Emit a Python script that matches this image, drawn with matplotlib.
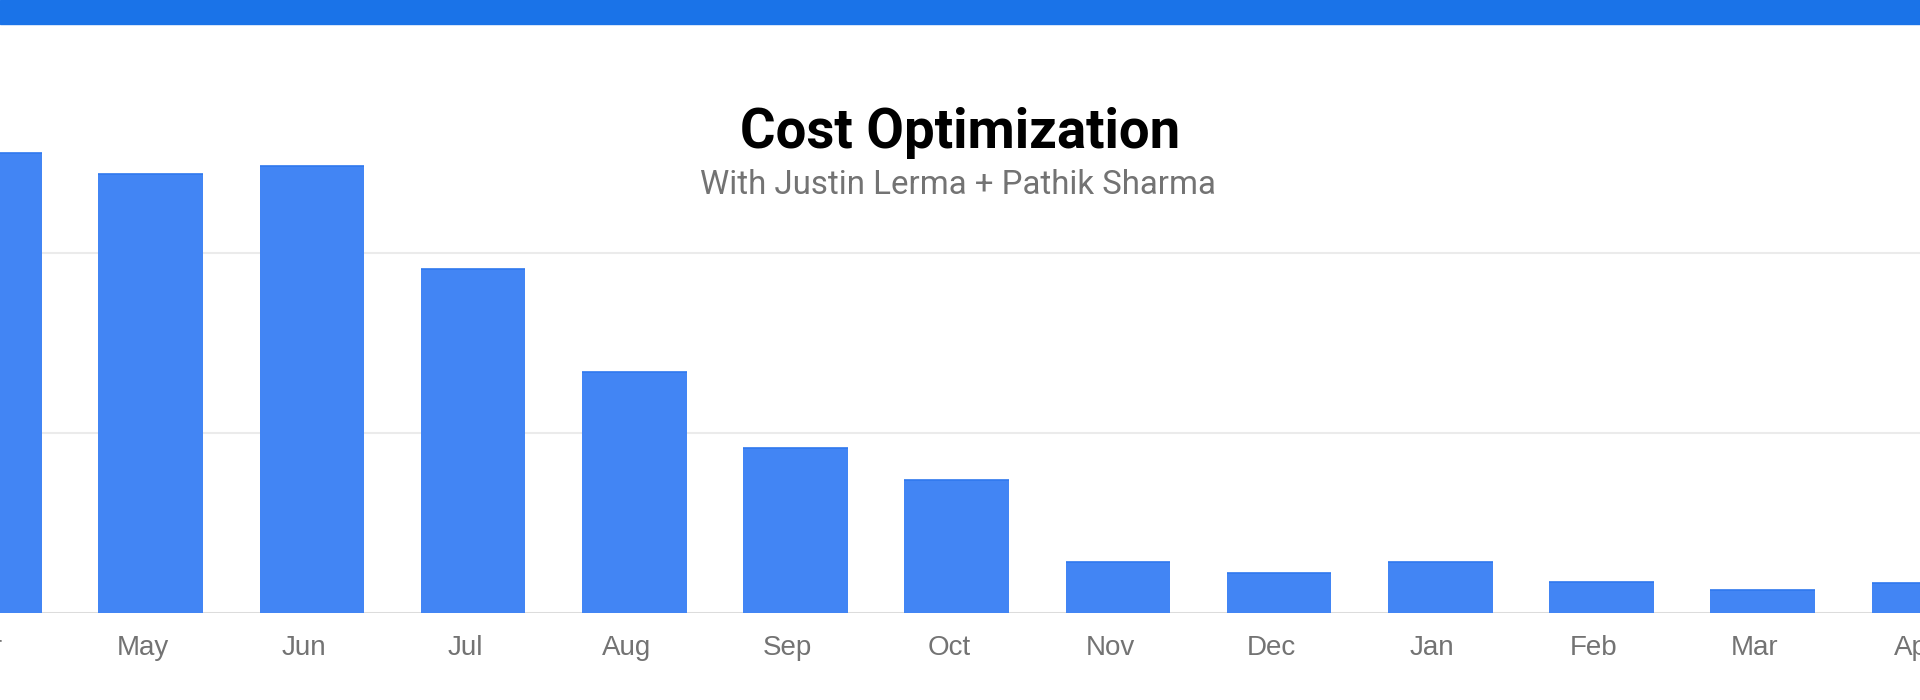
import matplotlib
matplotlib.use("Agg")
import matplotlib.pyplot as plt
import matplotlib.transforms as mtransforms
import numpy as np

# monthly cost, arbitrary units (grid step = 100)
months = ["Apr", "May", "Jun", "Jul", "Aug", "Sep", "Oct",
          "Nov", "Dec", "Jan", "Feb", "Mar", "Apr"]
cost = [255.4, 243.6, 248.3, 190.9, 133.6, 91.3, 73.7,
        28.2, 22.1, 28.2, 17.1, 12.6, 16.5]
grid_values = [100, 200]

title = "Cost Optimization"
subtitle = "With Justin Lerma + Pathik Sharma"

bar_color = "#4285f4"
bar_edge = "#2f78ee"
band_color = "#1a73e8"
label_gray = "#737373"

W, H = 1920, 700
fig = plt.figure(figsize=(W / 100, H / 100), dpi=100)
fig.patch.set_facecolor("white")

# axes spans full width, baseline at ~613 px from top
ax = fig.add_axes([0, 87.3 / H, 1, 612.7 / H])
ax.set_facecolor("none")

x = np.arange(len(months))
bw = 0.65
for g in grid_values:
    ax.axhline(g, color="#ebebeb", linewidth=1.5, zorder=0)
ax.bar(x, cost, width=bw, color=bar_color, zorder=2)
# slightly darker top edge on each bar, like the screenshot
ax.hlines(cost, x - bw / 2, x + bw / 2, color=bar_edge, linewidth=1.2, zorder=3)
ax.axhline(0, color="#dcdcdc", linewidth=2.2, zorder=1)

ax.set_xticks([])
ax.set_yticks([])
for s in ax.spines.values():
    s.set_visible(False)
ax.set_xlim(10.5 / 161.2, (W + 10.5) / 161.2)
ax.set_ylim(0, 612.7 / 1.8)

# month labels: drawn as texts so the half-cut edge labels still show
lab_tr = ax.get_xaxis_transform() + mtransforms.ScaledTranslation(-8 / 100, -42 / 100, fig.dpi_scale_trans)
for xi, m in zip(x, months):
    ax.text(xi, 0, m, transform=lab_tr, ha="center", va="baseline",
            fontsize=20, color=label_gray, family="Liberation Sans", clip_on=False)

# top blue band
fig.patches.append(plt.Rectangle((0, 1 - 24 / H), 1, 24 / H,
                                 transform=fig.transFigure, color=band_color, zorder=10))

t1 = fig.text(960 / W, 1 - 148 / H, title, ha="center", va="baseline",
              fontsize=30, fontweight="bold", family="Roboto", color="black")
t2 = fig.text(958 / W, 1 - 194 / H, subtitle, ha="center", va="baseline",
              fontsize=20, family="Roboto", color="#737373")

# scale font sizes so the text widths match the reference
fig.canvas.draw()
r = fig.canvas.get_renderer()
for t, target in [(t1, 441), (t2, 515)]:
    w = t.get_window_extent(renderer=r).width
    t.set_fontsize(t.get_fontsize() * target / w)

fig.savefig("out.png", dpi=100, facecolor="white")
